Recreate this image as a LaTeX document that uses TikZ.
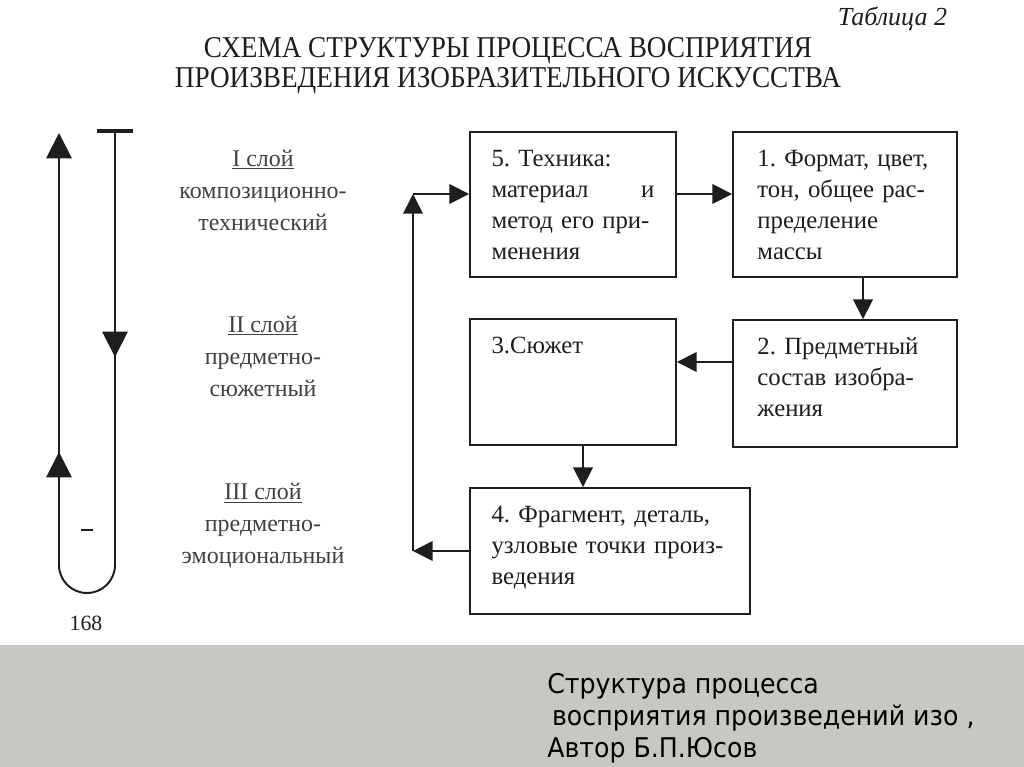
\documentclass[tikz,border=0pt]{standalone}
\usepackage{fontspec}
\setmainfont{Liberation Serif}
\newfontfamily\titlefont[FakeStretch=0.9]{Liberation Serif}
\newfontfamily\capfont[FakeStretch=0.93]{DejaVu Sans}
\usetikzlibrary{arrows.meta,positioning,calc}
\definecolor{scanink}{RGB}{30,30,30}
\definecolor{bandgrey}{RGB}{201,199,193}
\tikzset{
  stage/.style={draw=scanink, line width=1.3pt, rectangle, inner xsep=0.54cm, inner ysep=0pt,
    text height=0.875cm, font=\fontsize{17.6}{22}\selectfont, text=scanink},
  flow/.style={draw=scanink, line width=1.2pt, -{Triangle[length=14pt,width=14pt]}},
  bigflow/.style={draw=scanink, line width=1.4pt, -{Triangle[length=18pt,width=18pt]}},
  layer/.style={align=center, font=\fontsize{17}{22.8}\selectfont, text=scanink!85}
}

\begin{document}
\frenchspacing
\begin{tikzpicture}[x=0.025cm, y=-0.025cm]
    \useasboundingbox (0,0) rectangle (1024,767);
    \fill[white] (0,0) rectangle (1024,645);
    \fill[bandgrey] (0,645) rectangle (1024,767);

    \node[anchor=east, font=\itshape\fontsize{18.5}{21}\selectfont, text=scanink] (tableno) at (952,19) {Таблица 2};
    \node[align=center, font=\titlefont\fontsize{21.5}{21.3}\selectfont, text=scanink] (title) at (508,66)
        {СХЕМА СТРУКТУРЫ ПРОЦЕССА ВОСПРИЯТИЯ\\ПРОИЗВЕДЕНИЯ ИЗОБРАЗИТЕЛЬНОГО ИСКУССТВА};

    \draw[line width=3pt, scanink] (97,131) -- (133,131);
    \draw[bigflow] (115,131) -- (115,565) arc[start angle=0, end angle=-180, radius=0.7cm] -- (59,133);
    \draw[bigflow] (115,320) -- (115,357);
    \draw[bigflow] (59,485) -- (59,452);
    \draw[line width=1pt, scanink] (81,530) -- (93,530);
    \node[font=\fontsize{15.5}{18}\selectfont, text=scanink] (page) at (86,623) {168};

    \node[layer] (layer1) at (263,190) {\underline{I слой}\\композиционно-\\технический};
    \node[layer] (layer2) at (263,356) {\underline{II слой}\\предметно-\\сюжетный};
    \node[layer] (layer3) at (263,526) {\underline{III слой}\\предметно-\\эмоциональный};

    \node[stage, text width=4.07cm, text depth=2.75cm] (tech) at (573,204.5)
        {5. Техника:\\ материал \hfill и\linebreak метод его при-\linebreak менения};
    \node[stage, inner xsep=0.6125cm, text width=4.375cm, text depth=2.75cm] (form) at (845,204.5)
        {1. Формат, цвет,\linebreak тон, общее рас-\linebreak пределение\\ массы};
    \node[stage, inner xsep=0.6125cm, text width=4.375cm, text depth=2.3cm] (objects) at (845,383.5)
        {2. Предметный\linebreak состав изобра-\linebreak жения};
    \node[stage, text width=4.07cm, text depth=2.275cm] (plot) at (573,382) {3.Сюжет};
    \node[stage, text width=5.92cm, text depth=2.275cm] (detail) at (610,551)
        {4. Фрагмент, деталь,\linebreak узловые точки произ-\linebreak ведения};

    \draw[flow] ([yshift=0.2625cm]tech.east) -- ([yshift=0.2625cm]tech.east -| form.west);
    \draw[flow] ([xshift=0.45cm]form.south) -- ([xshift=0.45cm]form.south |- objects.north);
    \draw[flow] ([yshift=0.5375cm]objects.west) -- ([yshift=0.5375cm]objects.west -| plot.east);
    \draw[flow] ([xshift=0.25cm]plot.south) -- ([xshift=0.25cm]plot.south |- detail.north);
    \coordinate (backlow) at (413,551);
    \coordinate (backup) at (413,194);
    \draw[flow] (detail.west) -- (backlow);
    \draw[flow] (backlow) -- (backup);
    \draw[flow] (backup) -- (backup -| tech.west);

    \node[anchor=west, align=left, inner sep=0pt, font=\capfont\fontsize{19.3}{22.8}\selectfont] (caption) at (547,718)
        {Структура процесса\\\hspace*{0.12cm}восприятия произведений изо ,\\Автор Б.П.Юсов};
\end{tikzpicture}
\end{document}
